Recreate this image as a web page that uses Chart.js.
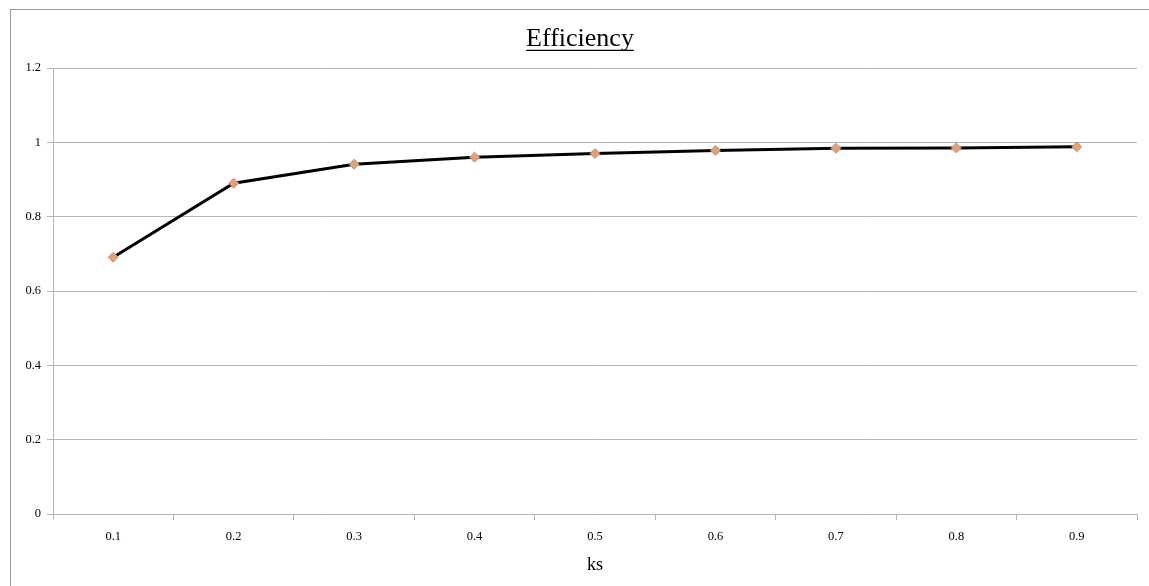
<!DOCTYPE html>
<html>
<head>
<meta charset="utf-8">
<script src="https://cdn.jsdelivr.net/npm/chart.js@4/dist/chart.umd.min.js"></script>
<style>
  html, body { margin: 0; padding: 0; background: #fff; overflow: hidden; }
  #frame { position: absolute; left: 10px; top: 9px; width: 1139px; height: 577px; border-left: 1px solid #9a9a9a; border-top: 1px solid #9a9a9a; box-sizing: border-box; }
  #effChart { position: absolute; left: 0; top: 0; }
</style>
</head>
<body>
<div id="frame"></div>
<canvas id="effChart" width="1149" height="586"></canvas>
<script>
const ksLabels = ["0.1", "0.2", "0.3", "0.4", "0.5", "0.6", "0.7", "0.8", "0.9"];
const efficiency = [0.691, 0.890, 0.941, 0.960, 0.970, 0.978, 0.984, 0.985, 0.988];
const yTicks = [0, 0.2, 0.4, 0.6, 0.8, 1, 1.2];

const serif = "'Liberation Serif', 'Times New Roman', serif";
const gridGray = "#b5b5b5";

// Chart.js has no underlined title, so draw the line under it by hand
const titleUnderline = {
  id: "titleUnderline",
  afterDraw(chart) {
    const t = chart.titleBlock;
    if (!t || !t.options.display) return;
    const { ctx } = chart;
    const font = Chart.helpers.toFont(t.options.font);
    ctx.save();
    ctx.font = font.string;
    const w = ctx.measureText(t.options.text).width;
    const cx = (t.left + t.right) / 2;
    const y = t.top + t.options.padding.top + font.lineHeight / 2 + font.size * 0.42;
    ctx.strokeStyle = "#000";
    ctx.lineWidth = 1.2;
    ctx.beginPath();
    ctx.moveTo(cx - w / 2, y);
    ctx.lineTo(cx + w / 2, y);
    ctx.stroke();
    ctx.restore();
  }
};

new Chart(document.getElementById("effChart"), {
  type: "line",
  data: {
    labels: ksLabels,
    datasets: [{
      label: "Efficiency",
      data: efficiency,
      borderColor: "#000",
      borderWidth: 3,
      tension: 0,
      pointStyle: "rectRot",
      pointRadius: 5,
      pointBackgroundColor: "#f59d56",
      pointBorderColor: "#7ea3d3",
      pointBorderWidth: 1
    }]
  },
  options: {
    responsive: false,
    animation: false,
    devicePixelRatio: 1,
    layout: { padding: { left: 23, right: 12, top: 0, bottom: 0 } },
    plugins: {
      legend: { display: false },
      tooltip: { enabled: false },
      title: {
        display: true,
        text: "Efficiency",
        color: "#000",
        font: { family: serif, size: 26, weight: "normal", lineHeight: 1.2 },
        padding: { top: 23.9, bottom: 12.9 }
      }
    },
    scales: {
      x: {
        offset: true,
        grid: { offset: true, drawOnChartArea: false, drawTicks: true, tickLength: 6, color: gridGray },
        border: { color: gridGray },
        ticks: { color: "#000", font: { family: serif, size: 12.5 }, padding: 9, maxRotation: 0 },
        title: { display: true, text: "ks", color: "#000", font: { family: serif, size: 18 }, padding: { bottom: 10 } },
        afterFit(scale) { scale.height = 72; }
      },
      y: {
        min: 0,
        max: 1.2,
        afterBuildTicks(scale) { scale.ticks = yTicks.map((v) => ({ value: v })); },
        grid: { color: gridGray, tickLength: 6 },
        border: { color: gridGray },
        ticks: { color: "#000", font: { family: serif, size: 12.5 }, padding: 6, callback: (v) => String(v) },
        afterFit(scale) { scale.width = 30; }
      }
    }
  },
  plugins: [titleUnderline]
});
</script>
</body>
</html>
